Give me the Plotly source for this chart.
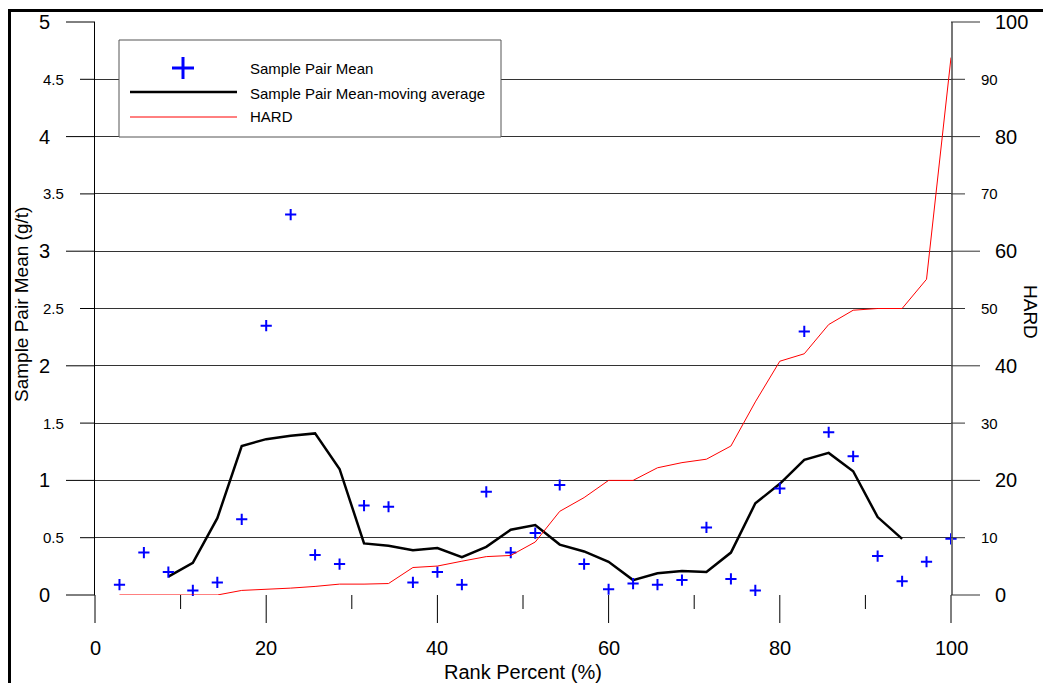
import plotly.graph_objects as go

# Rank percent of each sample pair (35 pairs)
rank_pct = [2.86, 5.71, 8.57, 11.43, 14.29, 17.14, 20.0, 22.86, 25.71, 28.57,
            31.43, 34.29, 37.14, 40.0, 42.86, 45.71, 48.57, 51.43, 54.29, 57.14,
            60.0, 62.86, 65.71, 68.57, 71.43, 74.29, 77.14, 80.0, 82.86, 85.71,
            88.57, 91.43, 94.29, 97.14, 100.0]

# Sample pair mean grade (g/t)
pair_mean = [0.09, 0.37, 0.20, 0.04, 0.11, 0.66, 2.35, 3.32, 0.35, 0.27,
             0.78, 0.77, 0.11, 0.20, 0.09, 0.90, 0.37, 0.54, 0.96, 0.27,
             0.05, 0.10, 0.09, 0.13, 0.59, 0.14, 0.04, 0.93, 2.30, 1.42,
             1.21, 0.34, 0.12, 0.29, 0.49]

# Moving average of the pair mean (defined from the 3rd to the 33rd pair)
ma_rank = rank_pct[2:33]
ma_mean = [0.16, 0.28, 0.67, 1.30, 1.36, 1.39, 1.41, 1.10, 0.45, 0.43,
           0.39, 0.41, 0.33, 0.42, 0.57, 0.61, 0.44, 0.38, 0.29, 0.13,
           0.19, 0.21, 0.20, 0.37, 0.80, 0.97, 1.18, 1.24, 1.08, 0.68,
           0.49]

# HARD (half absolute relative difference, %) on the secondary axis
hard = [0, 0, 0, 0, 0, 0.8, 0.95, 1.2, 1.5, 1.9,
        1.9, 2.0, 4.8, 5.05, 5.9, 6.7, 6.9, 9.25, 14.6, 17.0,
        20.0, 20.0, 22.2, 23.1, 23.7, 26.0, 33.7, 40.8, 42.1, 47.2,
        49.7, 50.0, 50.0, 55.1, 93.8]

# axis ranges and tick positions / labels
x_range = [0, 100]
y_range = [0, 5]
y2_range = [0, 100]
x_major = [0, 20, 40, 60, 80, 100]
x_minor = [10, 30, 50, 70, 90]
y_major = [0, 1, 2, 3, 4, 5]
y_minor = [0.5, 1.5, 2.5, 3.5, 4.5]
y2_major = [0, 20, 40, 60, 80, 100]
y2_minor = [10, 30, 50, 70, 90]

FONT = "Liberation Sans, Arial, sans-serif"
W, H = 1043, 683
L, R, T, B = 95, 951, 22, 595


def px_x(p):
    return (p - L) / (R - L)


def px_y(p):
    return (B - p) / (B - T)


def frac(v, rng):
    return (v - rng[0]) / (rng[1] - rng[0])


fig = go.Figure()

fig.add_trace(go.Scatter(
    x=rank_pct, y=hard, mode="lines", name="HARD", yaxis="y2",
    line=dict(color="#ff0000", width=1), showlegend=False))

fig.add_trace(go.Scatter(
    x=ma_rank, y=ma_mean, mode="lines", name="Sample Pair Mean-moving average",
    line=dict(color="black", width=2.5), showlegend=False))

fig.add_trace(go.Scatter(
    x=rank_pct, y=pair_mean, mode="markers", name="Sample Pair Mean",
    marker=dict(symbol="cross-thin", size=8, color="#0000ff",
                line=dict(color="#0000ff", width=2)),
    cliponaxis=False, showlegend=False))

grid_col = "#333333"

fig.update_layout(
    width=W, height=H,
    margin=dict(l=L, r=W - R, t=T, b=H - B, pad=0),
    paper_bgcolor="white", plot_bgcolor="white",
    font=dict(family=FONT, color="black"),
    showlegend=False,
    xaxis=dict(
        range=x_range, showgrid=False, zeroline=False, showline=False,
        showticklabels=False, ticks="",
    ),
    yaxis=dict(
        range=y_range, showgrid=True, gridcolor=grid_col, gridwidth=1,
        zeroline=False, showline=True, linecolor="black", linewidth=1,
        showticklabels=False, ticks="", tickmode="linear", tick0=0, dtick=1,
        minor=dict(tickmode="linear", tick0=0, dtick=0.5, showgrid=True,
                   gridcolor=grid_col, gridwidth=1),
    ),
    yaxis2=dict(
        range=y2_range, overlaying="y", side="right", anchor="x",
        showgrid=False, zeroline=False, showline=True, linecolor="#777777",
        linewidth=2, showticklabels=False, ticks="",
    ),
)

annotations = []
shapes = []


def label(text, x, xref, y, yref, xanchor, yanchor, size, angle=0):
    annotations.append(dict(
        x=x, xref=xref, y=y, yref=yref, text=text, xanchor=xanchor,
        yanchor=yanchor, showarrow=False, textangle=angle,
        font=dict(size=size, family=FONT)))


def seg(x0, x1, y0, y1, color="black", width=1):
    shapes.append(dict(type="line", xref="paper", yref="paper", x0=x0, x1=x1,
                       y0=y0, y1=y1, line=dict(color=color, width=width),
                       layer="above"))


# bottom axis: long ticks at the labelled steps, short ticks between
for v in x_major:
    f = frac(v, x_range)
    seg(f, f, 0, px_y(623))
    label(str(v), v, "x", px_y(648), "paper", "center", "middle", 20)
for v in x_minor:
    f = frac(v, x_range)
    seg(f, f, 0, px_y(609))

# left axis
for v in y_major:
    f = frac(v, y_range)
    seg(px_x(66), 0, f, f)
    label(str(v), px_x(52), "paper", f, "paper", "right", "middle", 20)
for v in y_minor:
    f = frac(v, y_range)
    seg(px_x(80), 0, f, f)
    label(str(v), px_x(66), "paper", f, "paper", "right", "middle", 15)

# right axis
for v in y2_major:
    f = frac(v, y2_range)
    seg(1, px_x(980), f, f, "#333333")
    label(str(v), px_x(993), "paper", f, "paper", "left", "middle", 20)
for v in y2_minor:
    f = frac(v, y2_range)
    seg(1, px_x(965), f, f, "#333333")
    label(str(v), px_x(979), "paper", f, "paper", "left", "middle", 15)

# axis titles
label("Rank Percent (%)", 0.5, "paper", px_y(672), "paper", "center", "middle", 20)
label("Sample Pair Mean (g/t)", px_x(22), "paper", px_y(305), "paper",
      "center", "middle", 19, -90)
label("HARD", px_x(1031), "paper", px_y(312), "paper", "center", "middle", 19, 90)

# legend labels
legend_items = [("Sample Pair Mean", 68), ("Sample Pair Mean-moving average", 93),
                ("HARD", 117)]
for text, ypx in legend_items:
    label(text, px_x(248), "paper", px_y(ypx), "paper", "left", "middle", 15)

# outer frame (left and top edges fall inside the page)
seg(px_x(9.5), px_x(9.5), px_y(700), px_y(9), "black", 3)
seg(px_x(8), px_x(1060), px_y(10.5), px_y(10.5), "black", 3)

# legend box
shapes.append(dict(type="rect", xref="paper", yref="paper",
                   x0=px_x(119), x1=px_x(501), y0=px_y(137), y1=px_y(40),
                   line=dict(color="#555555", width=1), fillcolor="white",
                   layer="above"))
# legend symbols: cross, moving-average line, HARD line
seg(px_x(172), px_x(194), px_y(68), px_y(68), "#0000ff", 3)
seg(px_x(183), px_x(183), px_y(57), px_y(79), "#0000ff", 3)
seg(px_x(130), px_x(237), px_y(92), px_y(92), "black", 2.5)
seg(px_x(130), px_x(237), px_y(117), px_y(117), "#ff0000", 1)

fig.update_layout(annotations=annotations, shapes=shapes)

fig.write_html("out.html", config={"displayModeBar": False})
